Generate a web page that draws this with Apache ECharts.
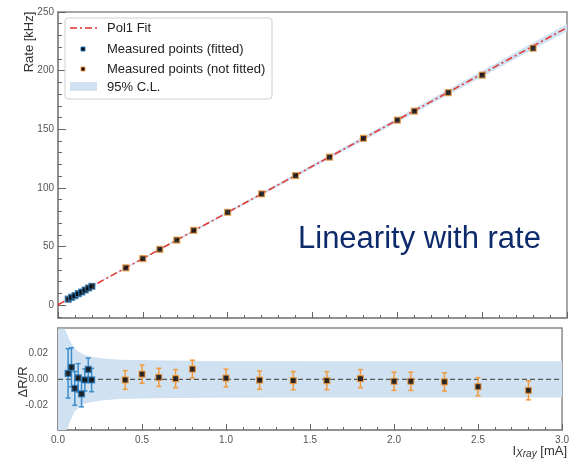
<!DOCTYPE html>
<html><head><meta charset="utf-8">
<script src="https://cdn.jsdelivr.net/npm/echarts@6/dist/echarts.min.js"></script>
<style>html,body{margin:0;padding:0;background:#fff}#c{width:572px;height:459px}</style>
</head><body><div id="c"></div>
<script>
// ---- data ----
const fitI = [0, 3.0];
const fitRate = [0.3, 236.7];
const fittedI = [0.06, 0.08, 0.10, 0.12, 0.14, 0.16, 0.18, 0.20];
const fittedRate = [5.05, 6.67, 8.12, 9.77, 11.16, 12.9, 14.6, 16.1];
const fittedRes = [0.0046, 0.0093, -0.0070, 0.0011, -0.0112, -0.0005, 0.0076, -0.0005];
const fittedErr = [0.019, 0.015, 0.013, 0.011, 0.010, 0.0085, 0.0087, 0.009];
const otherI = [0.4, 0.5, 0.6, 0.7, 0.8, 1.0, 1.2, 1.4, 1.6, 1.8, 2.0, 2.1, 2.3, 2.5, 2.8];
const otherRate = [31.8, 39.7, 47.6, 55.5, 63.8, 79.2, 94.8, 110.5, 126.2, 142.2, 157.7, 165.5, 181.2, 196.1, 219.1];
const otherRes = [-0.0005, 0.004, 0.0015, 0.0005, 0.0079, 0.001, -0.0006, -0.001, -0.001, 0.0005, -0.0015, -0.0015, -0.002, -0.0057, -0.0085];
const otherErr = [0.0072, 0.007, 0.007, 0.007, 0.0068, 0.0068, 0.007, 0.007, 0.007, 0.007, 0.007, 0.007, 0.007, 0.007, 0.0073];
// 95% C.L. band, top panel (kHz)
const bandI = [0, 0.5, 1.0, 1.5, 2.0, 2.5, 3.0];
const bandUp = [0.5, 40.3, 80.1, 120.0, 159.9, 199.8, 239.8];
const bandLo = [0.1, 39.1, 78.1, 117.0, 155.9, 194.8, 233.6];
// 95% C.L. band, residual panel
const resBandI = [0, 0.04, 0.05, 0.06, 0.07, 0.08, 0.09, 0.10, 0.12, 0.14, 0.16, 0.18, 0.22, 0.27, 0.37, 0.57, 0.86, 1.5, 2.0, 3.0];
const resBandUp = [0.039, 0.039, 0.036, 0.033, 0.030, 0.0277, 0.0256, 0.0238, 0.0215, 0.020, 0.0188, 0.0179, 0.017, 0.0161, 0.0151, 0.0146, 0.0141, 0.014, 0.014, 0.014];
const resBandLo = [-0.039, -0.039, -0.039, -0.037, -0.033, -0.030, -0.027, -0.025, -0.022, -0.020, -0.0188, -0.018, -0.017, -0.0162, -0.0152, -0.0146, -0.0141, -0.014, -0.014, -0.014];
// axis ticks
const xMajor = [0, 0.5, 1.0, 1.5, 2.0, 2.5, 3.0];
const xMinor = [0.1, 0.2, 0.3, 0.4, 0.6, 0.7, 0.8, 0.9, 1.1, 1.2, 1.3, 1.4, 1.6, 1.7, 1.8, 1.9, 2.1, 2.2, 2.3, 2.4, 2.6, 2.7, 2.8, 2.9];
const rateLabels = [0, 50, 100, 150, 200, 250];
const rateMinor = [-10, 10, 20, 30, 40, 60, 70, 80, 90, 110, 120, 130, 140, 160, 170, 180, 190, 210, 220, 230, 240];
const resLabels = [-0.02, 0, 0.02];
const resMinor = [-0.035, -0.03, -0.025, -0.015, -0.01, -0.005, 0.005, 0.01, 0.015, 0.025, 0.03, 0.035];

const FONT = '"Liberation Sans", Arial, sans-serif';
const BLUE = '#2b7bba', ORANGE = '#f19a3e', BANDC = '#d0e2f2', FRAME = '#8a8a8a', TICK = '#666';

function bandSeries(xs, up, lo, xi, yi) {
  return {
    type: 'custom', xAxisIndex: xi, yAxisIndex: yi, clip: true, silent: true, z: 1,
    data: [[xs[0], up[0]]],
    renderItem: function (params, api) {
      const pts = [];
      for (let i = 0; i < xs.length; i++) pts.push(api.coord([xs[i], up[i]]));
      for (let i = xs.length - 1; i >= 0; i--) pts.push(api.coord([xs[i], lo[i]]));
      return { type: 'polygon', shape: { points: pts }, style: { fill: BANDC } };
    }
  };
}
function errSeries(xs, ys, es, color, xi, yi) {
  return {
    type: 'custom', xAxisIndex: xi, yAxisIndex: yi, z: 3, silent: true,
    data: xs.map((x, i) => [x, ys[i] - es[i], ys[i] + es[i]]),
    encode: { x: 0, y: [1, 2] },
    renderItem: function (params, api) {
      const x = api.value(0);
      const a = api.coord([x, api.value(1)]), b = api.coord([x, api.value(2)]);
      const st = { stroke: color, lineWidth: 1.5 };
      return { type: 'group', children: [
        { type: 'line', shape: { x1: a[0], y1: a[1], x2: b[0], y2: b[1] }, style: st },
        { type: 'line', shape: { x1: a[0] - 2.5, y1: a[1], x2: a[0] + 2.5, y2: a[1] }, style: st },
        { type: 'line', shape: { x1: b[0] - 2.5, y1: b[1], x2: b[0] + 2.5, y2: b[1] }, style: st }
      ] };
    }
  };
}
const axLine = { show: true, onZero: false, lineStyle: { color: FRAME, width: 1.5 } };
const noLine = { show: false, onZero: false };
function xMajorAx(gi, showLabel) {
  return {
    type: 'value', gridIndex: gi, min: 0, max: 3, position: 'bottom',
    axisLine: axLine, splitLine: { show: false },
    axisTick: { inside: true, length: 6, customValues: xMajor, lineStyle: { color: TICK } },
    axisLabel: { show: showLabel, fontFamily: FONT, fontSize: 10, color: '#555', margin: 5,
      formatter: v => v.toFixed(1), customValues: xMajor }
  };
}
function xMinorAx(gi) {
  return {
    type: 'value', gridIndex: gi, min: 0, max: 3, position: 'bottom',
    axisLine: noLine, splitLine: { show: false }, axisLabel: { show: false },
    axisTick: { inside: true, length: 3, customValues: xMinor, lineStyle: { color: TICK } }
  };
}
function yMajor(gi, mn, mx, labels, fmt, margin) {
  return {
    type: 'value', gridIndex: gi, min: mn, max: mx, position: 'left',
    axisLine: axLine, splitLine: { show: false },
    axisTick: { inside: true, length: 8, customValues: labels, lineStyle: { color: TICK } },
    axisLabel: { fontFamily: FONT, fontSize: 10, color: '#555', margin: margin, customValues: labels, formatter: fmt }
  };
}
function yMinor(gi, mn, mx, vals) {
  return {
    type: 'value', gridIndex: gi, min: mn, max: mx, position: 'left',
    axisLine: noLine, splitLine: { show: false }, axisLabel: { show: false },
    axisTick: { inside: true, length: 4, customValues: vals, lineStyle: { color: TICK } }
  };
}

const chart = echarts.init(document.getElementById('c'));
chart.setOption({
  animation: false,
  grid: [
    { left: 58, top: 12, width: 509, height: 306, show: true, borderColor: FRAME, borderWidth: 1.5, backgroundColor: 'transparent' },
    { left: 58, top: 328, width: 509, height: 102, show: true, borderColor: FRAME, borderWidth: 1.5, backgroundColor: 'transparent' }
  ],
  xAxis: [xMajorAx(0, false), xMinorAx(0), xMajorAx(1, true), xMinorAx(1)],
  yAxis: [
    yMajor(0, -11, 250, rateLabels, v => String(v), 4),
    yMinor(0, -11, 250, rateMinor),
    yMajor(1, -0.039, 0.0395, resLabels, v => v.toFixed(2), 10),
    yMinor(1, -0.039, 0.0395, resMinor)
  ],
  series: [
    bandSeries(bandI, bandUp, bandLo, 0, 0),
    { type: 'line', xAxisIndex: 0, yAxisIndex: 0, z: 2, symbol: 'none', silent: true,
      data: fitI.map((x, i) => [x, fitRate[i]]),
      lineStyle: { color: '#e3342f', width: 1.5, type: [7, 3, 2, 3] } },
    { type: 'scatter', xAxisIndex: 0, yAxisIndex: 0, z: 4, symbol: 'rect', symbolSize: 6,
      data: fittedI.map((x, i) => [x, fittedRate[i]]),
      itemStyle: { color: '#000', borderColor: BLUE, borderWidth: 1.2 } },
    { type: 'scatter', xAxisIndex: 0, yAxisIndex: 0, z: 4, symbol: 'rect', symbolSize: 6,
      data: otherI.map((x, i) => [x, otherRate[i]]),
      itemStyle: { color: '#000', borderColor: ORANGE, borderWidth: 1.2 } },

    bandSeries(resBandI, resBandUp, resBandLo, 2, 2),
    { type: 'line', xAxisIndex: 2, yAxisIndex: 2, z: 2, symbol: 'none', silent: true,
      data: [[0, 0], [3, 0]], lineStyle: { color: '#555', width: 1.2, type: [5, 3] } },
    errSeries(fittedI, fittedRes, fittedErr, '#3d8ccb', 2, 2),
    errSeries(otherI, otherRes, otherErr, ORANGE, 2, 2),
    { type: 'scatter', xAxisIndex: 2, yAxisIndex: 2, z: 5, symbol: 'rect', symbolSize: 6,
      data: fittedI.map((x, i) => [x, fittedRes[i]]),
      itemStyle: { color: '#000', borderColor: BLUE, borderWidth: 1.2 } },
    { type: 'scatter', xAxisIndex: 2, yAxisIndex: 2, z: 5, symbol: 'rect', symbolSize: 6,
      data: otherI.map((x, i) => [x, otherRes[i]]),
      itemStyle: { color: '#000', borderColor: ORANGE, borderWidth: 1.2 } }
  ],
  graphic: [
    // legend
    { type: 'rect', z: 10, shape: { x: 65, y: 18, width: 207, height: 81, r: 3 }, style: { fill: '#fff', stroke: '#d0d0d0', lineWidth: 1 } },
    { type: 'line', z: 11, shape: { x1: 70, y1: 28, x2: 97, y2: 28 }, style: { stroke: '#e3342f', lineWidth: 1.5, lineDash: [7, 3, 2, 3] } },
    { type: 'rect', z: 11, shape: { x: 81, y: 47, width: 4, height: 4 }, style: { fill: '#000', stroke: BLUE, lineWidth: 1 } },
    { type: 'rect', z: 11, shape: { x: 81, y: 67, width: 4, height: 4 }, style: { fill: '#000', stroke: ORANGE, lineWidth: 1 } },
    { type: 'rect', z: 11, shape: { x: 70, y: 82, width: 27, height: 9 }, style: { fill: BANDC } },
    { type: 'text', z: 11, x: 107, y: 28, style: { text: 'Pol1 Fit', font: '13px ' + FONT, fill: '#222', verticalAlign: 'middle' } },
    { type: 'text', z: 11, x: 107, y: 49, style: { text: 'Measured points (fitted)', font: '13px ' + FONT, fill: '#222', verticalAlign: 'middle' } },
    { type: 'text', z: 11, x: 107, y: 69, style: { text: 'Measured points (not fitted)', font: '13px ' + FONT, fill: '#222', verticalAlign: 'middle' } },
    { type: 'text', z: 11, x: 107, y: 87, style: { text: '95% C.L.', font: '13px ' + FONT, fill: '#222', verticalAlign: 'middle' } },
    // annotation
    { type: 'text', z: 11, x: 298, y: 239, style: { text: 'Linearity with rate', font: '31px ' + FONT, fill: '#0d2a6b', verticalAlign: 'middle' } },
    // axis titles
    { type: 'text', z: 11, x: 29, y: 42, rotation: Math.PI / 2, style: { text: 'Rate [kHz]', font: '13px ' + FONT, fill: '#333', align: 'center', verticalAlign: 'middle' } },
    { type: 'text', z: 11, x: 23, y: 382, rotation: Math.PI / 2, style: { text: 'ΔR/R', font: '13px ' + FONT, fill: '#333', align: 'center', verticalAlign: 'middle' } },
    { type: 'text', z: 11, x: 567, y: 451, style: {
        text: 'I{s|Xray} [mA]', font: '13px ' + FONT, fill: '#333', align: 'right', verticalAlign: 'middle',
        rich: { s: { fontFamily: FONT, fontSize: 10, fontStyle: 'italic', fill: '#333', padding: [7, 0, 0, 0] } } } }
  ]
});
</script></body></html>
